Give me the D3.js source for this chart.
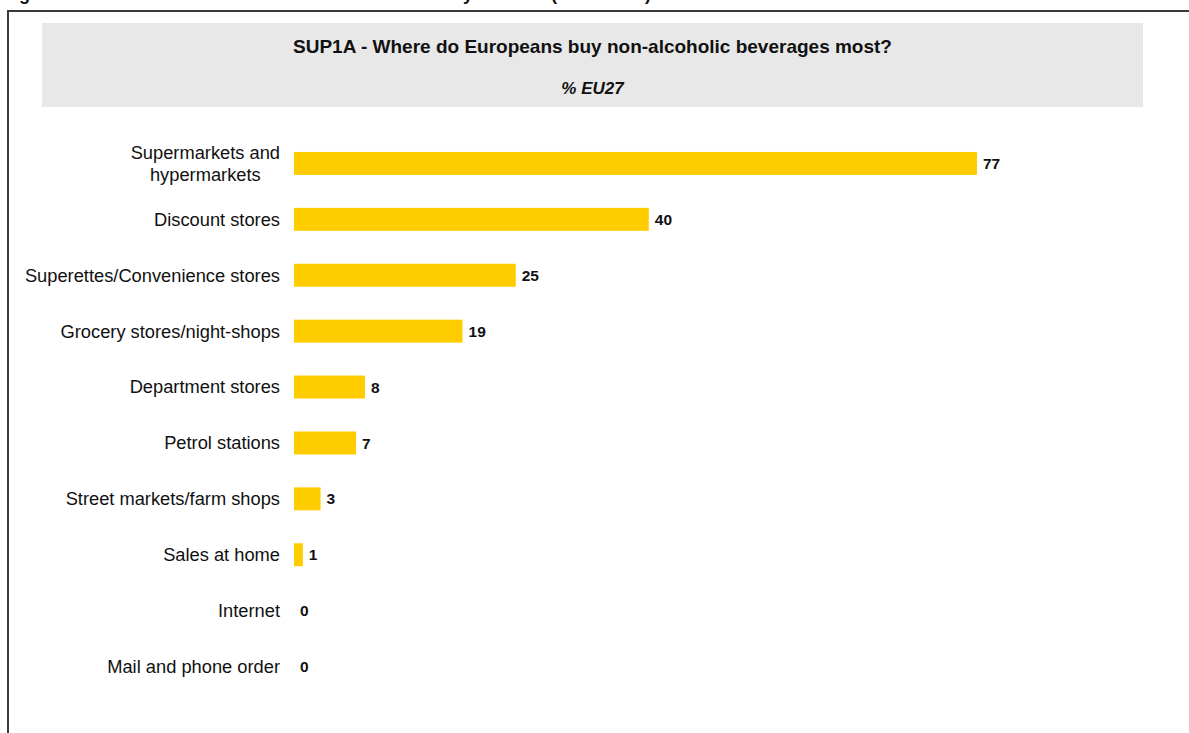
<!DOCTYPE html>
<html>
<head>
<meta charset="utf-8">
<script src="https://cdn.jsdelivr.net/npm/d3@7"></script>
<style>
  html, body { margin: 0; padding: 0; background: #ffffff; }
  svg { display: block; }
  text { font-family: "Liberation Sans", Arial, sans-serif; fill: #111; }
</style>
</head>
<body>
<svg id="chart" width="1189" height="733"></svg>
<script>
// Where Europeans buy non-alcoholic beverages most, % EU27
const heading = "Figure 6: Most used outlets for non-alcoholic drinks by channel (% of EU27)";
const title = "SUP1A - Where do Europeans buy non-alcoholic beverages most?";
const subtitle = "% EU27";

const categories = [
  "Supermarkets and\nhypermarkets",
  "Discount stores",
  "Superettes/Convenience stores",
  "Grocery stores/night-shops",
  "Department stores",
  "Petrol stations",
  "Street markets/farm shops",
  "Sales at home",
  "Internet",
  "Mail and phone order"
];
const values = [77, 40, 25, 19, 8, 7, 3, 1, 0, 0];

const svg = d3.select("#chart");

// page heading, sitting above the top edge of the page
svg.append("text")
  .attr("x", 3).attr("y", -0.3)
  .style("font-size", "18px").style("font-weight", "bold")
  .text(heading);

// outer frame
svg.append("rect")
  .attr("x", 8).attr("y", 11)
  .attr("width", 1300).attr("height", 900)
  .attr("fill", "none").attr("stroke", "#3a3a3a").attr("stroke-width", 2);

// title panel
svg.append("rect")
  .attr("x", 42).attr("y", 23)
  .attr("width", 1101).attr("height", 84)
  .attr("fill", "#e8e8e8");

svg.append("text")
  .attr("x", 592.5).attr("y", 53)
  .attr("text-anchor", "middle")
  .style("font-size", "19px").style("font-weight", "bold")
  .text(title);

svg.append("text")
  .attr("x", 592.5).attr("y", 94)
  .attr("text-anchor", "middle")
  .style("font-size", "17px").style("font-weight", "bold").style("font-style", "italic")
  .text(subtitle);

// scales
const x = d3.scaleLinear().domain([0, 100]).range([294, 1181]);
const y = d3.scaleBand()
  .domain(categories)
  .range([124, 706])
  .paddingInner(0.589)
  .paddingOuter(0.5);

const rows = svg.append("g").selectAll("g")
  .data(categories.map((c, i) => ({ cat: c, value: values[i] })))
  .join("g");

rows.append("rect")
  .attr("x", x(0))
  .attr("y", d => y(d.cat))
  .attr("width", d => x(d.value) - x(0))
  .attr("height", y.bandwidth())
  .attr("fill", "#ffcc00");

rows.append("text")
  .attr("x", d => x(d.value) + 6)
  .attr("y", d => y(d.cat) + y.bandwidth() / 2)
  .attr("dy", "0.36em")
  .style("font-size", "15.5px").style("font-weight", "bold")
  .text(d => d.value);

// category labels: single lines right-aligned, wrapped lines centred within the label block
const labelRight = 280;
const lineHeight = 22.5;
rows.each(function(d) {
  const lines = d.cat.split("\n");
  const g = d3.select(this);
  const cy = y(d.cat) + y.bandwidth() / 2;
  const t = g.append("text")
    .style("font-size", "18.3px")
    .attr("y", cy)
    .attr("text-anchor", "middle");
  const spans = lines.map((ln, i) => t.append("tspan")
    .attr("y", cy + (i - (lines.length - 1) / 2) * lineHeight)
    .attr("dy", "0.35em")
    .text(ln));
  const widths = spans.map(s => s.node().getComputedTextLength());
  const maxW = d3.max(widths);
  spans.forEach(s => s.attr("x", labelRight - maxW / 2));
});
</script>
</body>
</html>
